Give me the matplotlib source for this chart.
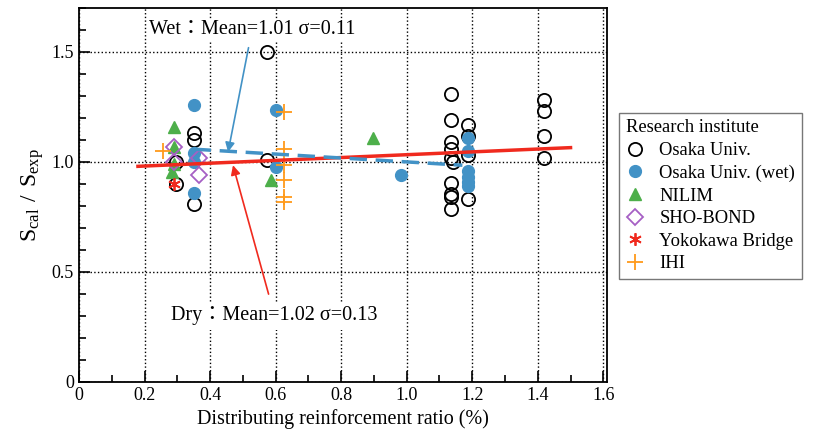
import matplotlib
matplotlib.use('Agg')
import matplotlib.pyplot as plt
from matplotlib.ticker import MultipleLocator, FixedLocator

plt.rcParams['font.family'] = ['Liberation Serif', 'Noto Sans CJK JP', 'DejaVu Sans']
plt.rcParams['mathtext.fontset'] = 'custom'
plt.rcParams['mathtext.rm'] = 'Liberation Serif'

# Osaka Univ. (dry)
osaka_x = [0.35, 0.35, 0.35, 0.295, 0.295,
           0.573, 0.573,
           1.136, 1.136, 1.136, 1.136, 1.136, 1.136, 1.136, 1.136, 1.136, 1.14,
           1.188, 1.188, 1.188, 1.188,
           1.42, 1.42, 1.42, 1.42]
osaka_y = [1.13, 1.10, 0.81, 1.0, 0.90,
           1.50, 1.01,
           1.31, 1.19, 1.09, 1.06, 1.02, 0.905, 0.855, 0.84, 0.785, 1.0,
           1.17, 1.12, 1.03, 0.83,
           1.28, 1.23, 1.12, 1.02]

# Osaka Univ. (wet)
wet_x = [0.35, 0.35, 0.35, 0.35, 0.60, 0.60, 0.983,
         1.188, 1.188, 1.188, 1.188, 1.188, 1.188]
wet_y = [1.26, 1.04, 1.0, 0.86, 1.236, 0.975, 0.94,
         1.11, 1.05, 0.96, 0.93, 0.91, 0.89]

nilim_x = [0.29, 0.29, 0.29, 0.285, 0.585, 0.898]
nilim_y = [1.16, 1.07, 0.99, 0.955, 0.92, 1.109]

sho_x = [0.29, 0.29, 0.365, 0.365]
sho_y = [1.07, 1.0, 1.02, 0.94]

yoko_x = [0.29]
yoko_y = [0.90]

ihi_x = [0.255, 0.626, 0.626, 0.626, 0.626, 0.626, 0.626]
ihi_y = [1.05, 1.227, 1.06, 0.986, 0.92, 0.84, 0.82]

# regression lines
dry_fit_x = [0.18, 1.5]
dry_fit_y = [0.98, 1.065]
wet_fit_x = [0.35, 1.17]
wet_fit_y = [1.058, 0.985]

BLUE = '#4292c6'
GREEN = '#4daf4a'
PURPLE = '#a65fc4'
RED = '#f02a1e'
ORANGE = '#ff9a1a'

fig = plt.figure(figsize=(8.14, 4.43), dpi=100)
ax = fig.add_axes([0.097, 0.138, 0.649, 0.844])

ax.plot(osaka_x, osaka_y, 'o', ms=9.5, mfc='none', mec='black', mew=1.3,
        label='Osaka Univ.', zorder=3)
ax.plot(wet_x, wet_y, 'o', ms=8.5, color=BLUE, mec=BLUE, label='Osaka Univ. (wet)', zorder=3)
ax.plot(nilim_x, nilim_y, '^', ms=8.5, color=GREEN, mec=GREEN, label='NILIM', zorder=3)
ax.plot(sho_x, sho_y, 'D', ms=8.5, mfc='none', mec=PURPLE, mew=1.3, label='SHO-BOND', zorder=3)
ax.plot(yoko_x, yoko_y, marker=(6, 2, 0), ls='none', ms=9, mec=RED, mew=1.3,
        label='Yokokawa Bridge', zorder=4)
ax.plot(ihi_x, ihi_y, '+', ms=11, mec=ORANGE, mew=1.3, label='IHI', zorder=3)

ax.plot(dry_fit_x, dry_fit_y, '-', color=RED, lw=2.5, zorder=5)
ax.plot(wet_fit_x, wet_fit_y, '--', color=BLUE, lw=2.5, dashes=(5, 2.5), zorder=5)

ax.annotate('Wet：Mean=1.01 σ=0.11', xy=(0.455, 1.045), xytext=(0.528, 1.6),
            fontsize=14.5, ha='center', va='center',
            bbox=dict(fc='white', ec='none', pad=1),
            arrowprops=dict(arrowstyle='-|>', color=BLUE, lw=1.2,
                            mutation_scale=14, shrinkA=5, shrinkB=0))
ax.annotate('Dry：Mean=1.02 σ=0.13', xy=(0.47, 0.985), xytext=(0.597, 0.30),
            fontsize=14.5, ha='center', va='center',
            bbox=dict(fc='white', ec='none', pad=3),
            arrowprops=dict(arrowstyle='-|>', color=RED, lw=1.2,
                            mutation_scale=14, shrinkA=6, shrinkB=0))

ax.set_xlim(0, 1.612)
ax.set_ylim(0, 1.7)
ax.xaxis.set_major_locator(FixedLocator([0, 0.2, 0.4, 0.6, 0.8, 1.0, 1.2, 1.4, 1.6]))
ax.xaxis.set_minor_locator(MultipleLocator(0.1))
ax.yaxis.set_major_locator(FixedLocator([0, 0.5, 1.0, 1.5]))
ax.yaxis.set_minor_locator(MultipleLocator(0.1))
ax.set_xticklabels(['0', '0.2', '0.4', '0.6', '0.8', '1.0', '1.2', '1.4', '1.6'])
ax.set_yticklabels(['0', '0.5', '1.0', '1.5'])
ax.tick_params(which='both', direction='in', labelsize=13, width=1.2)
ax.tick_params(which='major', length=8)
ax.tick_params(which='minor', length=5)
ax.grid(True, which='major', ls=':', color='black', lw=1.0)
for s in ax.spines.values():
    s.set_linewidth(1.3)

ax.set_xlabel('Distributing reinforcement ratio (%)', fontsize=14.5)
ax.set_ylabel(r'$\mathregular{S_{cal}\ /\ S_{exp}}$', fontsize=17)

leg = ax.legend(loc='upper left', bbox_to_anchor=(0.761, 0.745), bbox_transform=fig.transFigure,
                title='Research institute', fontsize=13.4, title_fontsize=13.4,
                frameon=True, fancybox=False, edgecolor='#555555', borderpad=0.35,
                borderaxespad=0, handlelength=1.0, handletextpad=0.8, labelspacing=0.3,
                alignment='left')
leg.get_frame().set_linewidth(1.0)

fig.savefig('out.png', dpi=100)
